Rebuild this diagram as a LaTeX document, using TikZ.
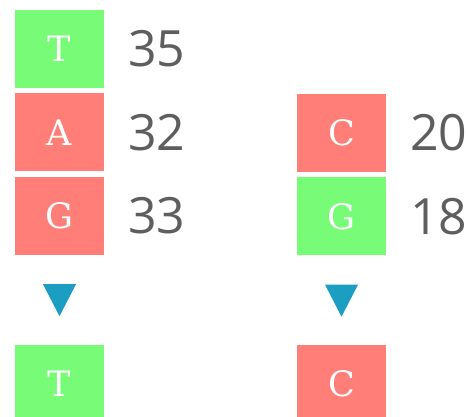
\documentclass[tikz,border=0pt]{standalone}
\usepackage{fontspec}
\usepackage{xcolor}
\usepackage{tikz}
\usetikzlibrary{positioning,shapes.geometric}
\newfontfamily\cifra{Open Sans}
\newfontfamily\letra{DejaVu Serif}
\definecolor{verdebase}{HTML}{78FC78}
\definecolor{rojobase}{HTML}{FF7F78}
\definecolor{azulmarca}{HTML}{1B9EC2}
\definecolor{grisnum}{HTML}{5E5E5E}
\tikzset{
  base/.style     = {rectangle, minimum width=89pt, minimum height=78pt,
                     inner sep=0pt, outer sep=0pt, text=white,
                     font=\letra\fontsize{35}{35}\selectfont},
  verde/.style    = {base, fill=verdebase},
  rojo/.style     = {base, fill=rojobase},
  conteo/.style   = {inner sep=0pt, outer sep=0pt, text=grisnum,
                     font=\cifra\fontsize{50}{50}\selectfont},
  marca/.style    = {isosceles triangle, isosceles triangle stretches,
                     shape border rotate=-90, fill=azulmarca,
                     minimum width=33pt, minimum height=32pt, inner sep=0pt},
}

\begin{document}
\begin{tikzpicture}[x=1pt, y=1pt, node distance=5.5pt and 24pt]
    \useasboundingbox (0,0) rectangle (468,417);
    % --- columna izquierda
    \node[verde] (t1) at (59.5,368) {T};
    \node[rojo, below=of t1] (a1) {A};
    \node[rojo, below=of a1] (g1) {G};
    \node[conteo, right=of t1] (nt1) {35};
    \node[conteo, right=of a1] (na1) {32};
    \node[conteo, right=of g1] (ng1) {33};
    \node[marca, below=29pt of g1] (m1) {};
    \node[verde, below=28pt of m1] (r1) {T};

    % --- columna derecha
    \node[rojo] (c2) at (341.5,284) {C};
    \node[verde, below=of c2] (g2) {G};
    \node[conteo, right=of c2] (nc2) {20};
    \node[conteo, right=of g2] (ng2) {18};
    \node[marca, below=29pt of g2] (m2) {};
    \node[rojo, below=28pt of m2] (r2) {C};
\end{tikzpicture}
\end{document}
